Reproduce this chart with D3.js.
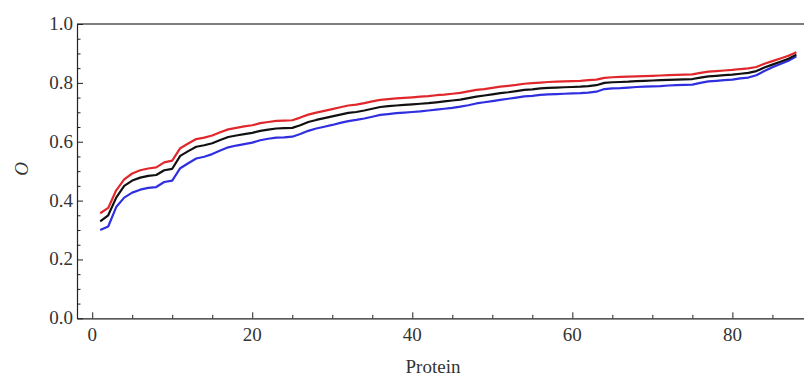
<!DOCTYPE html>
<html>
<head>
<meta charset="utf-8">
<script src="https://cdn.jsdelivr.net/npm/d3@7"></script>
<style>
  html, body { margin: 0; padding: 0; background: #fff; }
  svg { display: block; }
  svg text { font-family: "Liberation Serif", "Times New Roman", "DejaVu Serif", serif; }
</style>
</head>
<body>
<svg id="chart" width="804" height="381"></svg>
<script>
// protein index 1..88
const proteins = d3.range(1, 89);

// upper bound (red)
const upperValues = [
  0.357, 0.375, 0.435, 0.472, 0.492, 0.503, 0.509, 0.513, 0.530, 0.536,
  0.578, 0.594, 0.609, 0.614, 0.621, 0.632, 0.642, 0.647, 0.652, 0.656,
  0.663, 0.667, 0.671, 0.672, 0.673, 0.682, 0.692, 0.699, 0.705, 0.711,
  0.717, 0.723, 0.726, 0.731, 0.737, 0.742, 0.745, 0.747, 0.749, 0.751,
  0.753, 0.755, 0.758, 0.760, 0.763, 0.766, 0.771, 0.776, 0.779, 0.783,
  0.787, 0.790, 0.793, 0.797, 0.799, 0.801, 0.803, 0.804, 0.805, 0.806,
  0.807, 0.809, 0.811, 0.817, 0.819, 0.820, 0.821, 0.822, 0.823, 0.824,
  0.825, 0.826, 0.827, 0.828, 0.829, 0.834, 0.838, 0.840, 0.842, 0.844,
  0.847, 0.849, 0.854, 0.865, 0.874, 0.883, 0.892, 0.904
];

// mean (black)
const meanValues = [
  0.329, 0.350, 0.410, 0.450, 0.468, 0.478, 0.484, 0.487, 0.503, 0.508,
  0.552, 0.568, 0.583, 0.588, 0.595, 0.606, 0.616, 0.621, 0.626, 0.630,
  0.637, 0.641, 0.645, 0.646, 0.647, 0.656, 0.667, 0.674, 0.680, 0.686,
  0.692, 0.698, 0.701, 0.706, 0.712, 0.718, 0.721, 0.723, 0.725, 0.727,
  0.729, 0.731, 0.734, 0.737, 0.740, 0.743, 0.748, 0.753, 0.757, 0.761,
  0.765, 0.768, 0.772, 0.776, 0.778, 0.781, 0.783, 0.784, 0.785, 0.786,
  0.787, 0.789, 0.792, 0.800, 0.802, 0.803, 0.804, 0.806, 0.807, 0.808,
  0.809, 0.810, 0.811, 0.812, 0.813, 0.818, 0.822, 0.824, 0.826, 0.828,
  0.831, 0.834, 0.840, 0.852, 0.862, 0.872, 0.882, 0.896
];

// lower bound (blue)
const lowerValues = [
  0.300, 0.312, 0.378, 0.410, 0.427, 0.437, 0.443, 0.446, 0.463, 0.468,
  0.510, 0.527, 0.543, 0.549, 0.558, 0.570, 0.581, 0.587, 0.592, 0.597,
  0.605, 0.610, 0.614, 0.615, 0.617, 0.626, 0.637, 0.645, 0.651, 0.657,
  0.664, 0.670, 0.674, 0.679, 0.685, 0.691, 0.694, 0.697, 0.699, 0.701,
  0.703, 0.706, 0.709, 0.712, 0.715, 0.719, 0.724, 0.730, 0.734, 0.738,
  0.742, 0.746, 0.750, 0.754, 0.756, 0.759, 0.761, 0.762, 0.763, 0.764,
  0.765, 0.767, 0.770, 0.779, 0.781, 0.782, 0.784, 0.786, 0.787, 0.788,
  0.789, 0.791, 0.792, 0.793, 0.794, 0.800, 0.805, 0.807, 0.809, 0.811,
  0.815, 0.818, 0.826, 0.840, 0.853, 0.864, 0.875, 0.890
];

const xMajorTicks = [0, 20, 40, 60, 80];
const yMajorTicks = [0, 0.2, 0.4, 0.6, 0.8, 1.0];

const serif = '"Liberation Serif", "Times New Roman", "DejaVu Serif", serif';

const svg = d3.select('#chart');
const [plotLeft, plotRight, plotTop, plotBottom] = [77, 806, 24, 318.3];

// x: 8px per protein, 0 sits at ~92.7px
const x = d3.scaleLinear([-1.9, 89.2], [plotLeft, plotRight]);
const y = d3.scaleLinear([0, 1], [plotBottom, plotTop]);

// 프레임 (상단 선은 회색, 오른쪽은 잘려 있음)
svg.append('line')
  .attr('x1', plotLeft).attr('x2', plotRight)
  .attr('y1', plotTop).attr('y2', plotTop)
  .attr('stroke', '#555').attr('stroke-width', 1.3);

// x 축: 안쪽으로 향하는 틱
const xAxis = svg.append('g')
  .attr('transform', `translate(0, ${plotBottom})`)
  .call(d3.axisBottom(x).tickValues(d3.range(0, 90, 5)).tickSize(-5).tickSizeOuter(0).tickFormat(''))
  .call(g => g.select('.domain').attr('stroke', '#222').attr('stroke-width', 1.2));
xAxis.selectAll('.tick line')
  .attr('y2', d => (d % 20 === 0 ? -6 : -3.5))
  .attr('stroke', '#222');

svg.append('g')
  .attr('transform', `translate(0, ${plotBottom})`)
  .selectAll('text')
  .data(xMajorTicks)
  .join('text')
  .attr('x', d => x(d))
  .attr('y', 23)
  .attr('text-anchor', 'middle')
  .attr('font-family', serif)
  .attr('font-size', 19)
  .attr('fill', '#333')
  .text(d => d);

// y 축
const yAxis = svg.append('g')
  .attr('transform', `translate(${plotLeft}, 0)`)
  .call(d3.axisLeft(y).tickValues(d3.range(0, 1.0001, 0.05)).tickSize(-5).tickSizeOuter(0).tickFormat(''))
  .call(g => g.select('.domain').attr('stroke', '#222').attr('stroke-width', 1.2));
yAxis.selectAll('.tick line')
  .attr('x2', d => (Math.abs(d * 5 - Math.round(d * 5)) < 1e-6 ? 6 : 3.5))
  .attr('stroke', '#222');

svg.append('g')
  .selectAll('text')
  .data(yMajorTicks)
  .join('text')
  .attr('x', plotLeft - 4)
  .attr('y', d => y(d) + 6)
  .attr('text-anchor', 'end')
  .attr('font-family', serif)
  .attr('font-size', 19)
  .attr('fill', '#333')
  .text(d => d.toFixed(1));

// 축 제목
svg.append('text')
  .attr('x', 433).attr('y', 373)
  .attr('text-anchor', 'middle')
  .attr('font-family', serif)
  .attr('font-size', 19)
  .attr('fill', '#333')
  .text('Protein');

svg.append('text')
  .attr('transform', 'translate(28, 169) rotate(-90)')
  .attr('text-anchor', 'middle')
  .attr('font-family', serif)
  .attr('font-size', 19)
  .attr('font-style', 'italic')
  .attr('fill', '#333')
  .text('O');

// 세 개의 선
const line = d3.line()
  .x((d, i) => x(proteins[i]))
  .y(d => y(d));

const seriesList = [
  { values: upperValues, color: '#e0282c' },
  { values: lowerValues, color: '#2f2fe0' },
  { values: meanValues, color: '#111' }
];

svg.append('g')
  .selectAll('path')
  .data(seriesList)
  .join('path')
  .attr('fill', 'none')
  .attr('stroke', d => d.color)
  .attr('stroke-width', 2.2)
  .attr('stroke-linejoin', 'round')
  .attr('d', d => line(d.values));
</script>
</body>
</html>
